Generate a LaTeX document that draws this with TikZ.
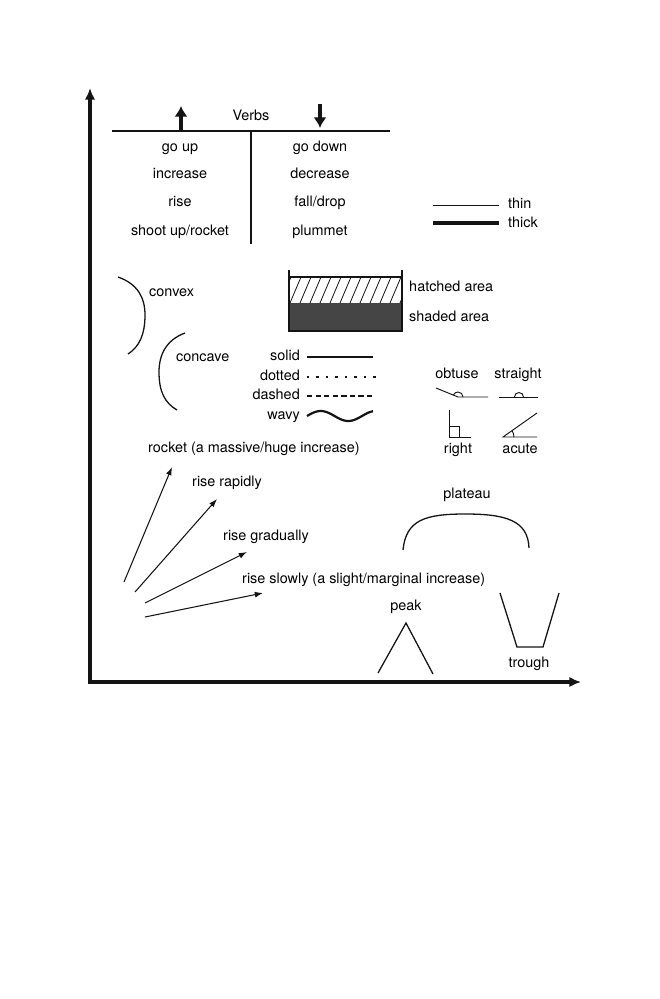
\documentclass[tikz,border=0pt]{standalone}
\usepackage{fontspec}
\setmainfont{TeX Gyre Heros}
\usetikzlibrary{arrows.meta}
\definecolor{shadecol}{gray}{0.27}
\definecolor{inkcol}{gray}{0.08}
\tikzset{
  lab/.style={font=\fontsize{12.3}{14}\selectfont,inner sep=0pt,text height=0.75em,text depth=0.2em},
  labl/.style={lab,anchor=west},
  labr/.style={lab,anchor=east},
  axis/.style={line width=2.8pt,line join=miter,{Latex[length=10pt,width=9pt]}-{Latex[length=10pt,width=9pt]}},
  trend/.style={line width=0.9pt,-{Latex[length=7pt,width=5pt]}},
  bigarr/.style={line width=3pt,-{Latex[length=9pt,width=11pt]}},
  curve/.style={line width=1.1pt},
  angl/.style={line width=0.8pt},
}
\begin{document}
\begin{tikzpicture}[x=0.03cm,y=0.03cm,draw=inkcol]
  \useasboundingbox (0,0) rectangle (659,-999);
  \coordinate (origin) at (90,-682);
  \coordinate (ytop) at (90,-88);
  \coordinate (xend) at (581,-682);
  \draw[axis] (ytop) -- (origin) -- (xend);
  \node[lab] (verbs) at (251,-117) {Verbs};
  \draw[bigarr] (181,-130) -- (181,-106);
  \draw[bigarr] (320,-104) -- (320,-128);
  \draw[curve] (112,-131) -- (390,-131);
  \draw[curve] (251,-131) -- (251,-244);
  \node[lab] (goup) at (180,-148) {go up};
  \node[lab] (incr) at (180,-175) {increase};
  \node[lab] (rise) at (180,-203) {rise};
  \node[lab] (shoot) at (180,-232) {shoot up/rocket};
  \node[lab] (godown) at (320,-148) {go down};
  \node[lab] (decr) at (320,-175) {decrease};
  \node[lab] (fall) at (320,-203) {fall/drop};
  \node[lab] (plum) at (320,-232) {plummet};
  \draw[line width=0.8pt] (433,-205) -- (499,-205);
  \node[labl] (thin) at (508,-205) {thin};
  \draw[line width=2.8pt] (433,-223) -- (499,-223);
  \node[labl] (thick) at (508,-224) {thick};
  \draw[curve] (118,-277) .. controls (138,-284) and (145,-298) .. (145,-315) .. controls (145,-335) and (139,-347) .. (128,-354);
  \node[labl] (convex) at (149,-293) {convex};
  \draw[curve] (185,-333) .. controls (166,-340) and (159,-355) .. (159,-372) .. controls (159,-392) and (165,-403) .. (177,-410);
  \node[labl] (concave) at (176,-358) {concave};
  \fill[shadecol] (289,-303) rectangle (402,-331);
  \begin{scope}
    \clip (289,-277) rectangle (402,-303);
    \foreach \i in {270,280,...,410}
      \draw[line width=0.7pt] (\i,-303) -- ++(11,26);
  \end{scope}
  \draw[curve] (289,-270) -- (289,-331) -- (402,-331) -- (402,-270);
  \draw[curve] (289,-277) -- (402,-277);
  \node[labl] (hatch) at (409,-288) {hatched area};
  \node[labl] (shade) at (409,-318) {shaded area};
  \node[labr] (solid) at (300,-357) {solid};
  \draw[line width=1.2pt] (307,-357) -- (373,-357);
  \node[labr] (dotted) at (300,-377) {dotted};
  \draw[line width=2.1pt,dash pattern=on 2.1pt off 6pt] (307,-377) -- (376,-377);
  \node[labr] (dashed) at (300,-396) {dashed};
  \draw[line width=1.5pt,dash pattern=on 4.6pt off 2.7pt] (307,-396) -- (373,-396);
  \node[labr] (wavy) at (300,-416) {wavy};
  \draw[line width=1.9pt,smooth] plot[domain=0:1.2,samples=40] ({307+55*\x},{-416+5*sin(360*\x)});
  \node[lab] (obtuse) at (457,-375) {obtuse};
  \node[lab] (straight) at (518,-375) {straight};
  \draw[angl] (436,-388) -- (458,-397) -- (488,-397);
  \draw[angl] (463,-397) arc[start angle=0,end angle=155,radius=5];
  \draw[angl] (499,-397) -- (538,-397);
  \draw[angl] (523.5,-397) arc[start angle=0,end angle=180,radius=4.5];
  \draw[angl] (449,-410) -- (449,-437) -- (471,-437);
  \draw[angl] (449,-426) -- (459,-426) -- (459,-437);
  \node[lab] (right) at (458,-450) {right};
  \draw[angl] (537,-413) -- (503,-437) -- (537,-437);
  \draw[angl] (514,-437) arc[start angle=0,end angle=35,radius=11];
  \node[lab] (acute) at (520,-450) {acute};
  \node[labl] (rocket) at (148,-449) {rocket (a massive/huge increase)};
  \draw[trend] (124,-582) -- (172,-467);
  \node[labl] (rapid) at (192,-483) {rise rapidly};
  \draw[trend] (135,-592) -- (217,-499);
  \node[labl] (grad) at (223,-537) {rise gradually};
  \draw[trend] (145,-603) -- (247,-552);
  \node[labl] (slow) at (242,-580) {rise slowly (a slight/marginal increase)};
  \draw[trend] (145,-617) -- (263,-593);
  \node[lab] (plateau) at (467,-495) {plateau};
  \draw[curve] (403,-550) .. controls (406,-520) and (425,-514) .. (465,-514) .. controls (505,-514) and (528,-520) .. (529,-548);
  \node[lab] (peak) at (406,-607) {peak};
  \draw[curve] (378,-673) -- (406,-623) -- (433,-674);
  \draw[curve] (500,-593) -- (517,-647) -- (543,-647) -- (559,-593);
  \node[lab] (trough) at (529,-664) {trough};
\end{tikzpicture}
\end{document}
